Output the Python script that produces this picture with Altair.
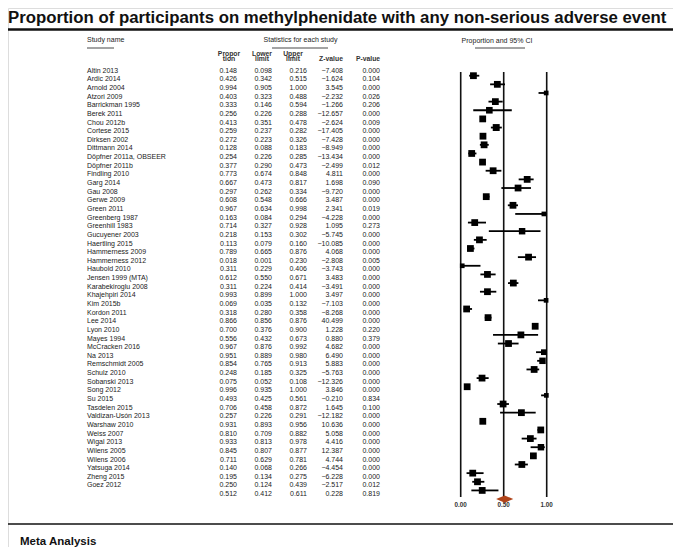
import altair as alt
import pandas as pd

TITLE = "Proportion of participants on methylphenidate with any non-serious adverse event"

studies = [
    "Altin 2013", "Ardic 2014", "Arnold 2004", "Atzori 2009", "Barrickman 1995",
    "Berek 2011", "Chou 2012b", "Cortese 2015", "Dirksen 2002", "Dittmann 2014",
    "Döpfner 2011a, OBSEER", "Döpfner 2011b", "Findling 2010", "Garg 2014", "Gau 2008",
    "Gerwe 2009", "Green 2011", "Greenberg 1987", "Greenhill 1983", "Gucuyener 2003",
    "Haertling 2015", "Hammerness 2009", "Hammerness 2012", "Haubold 2010", "Jensen 1999 (MTA)",
    "Karabekiroglu 2008", "Khajehpiri 2014", "Kim 2015b", "Kordon 2011", "Lee 2014",
    "Lyon 2010", "Mayes 1994", "McCracken 2016", "Na 2013", "Remschmidt 2005",
    "Schulz 2010", "Sobanski 2013", "Song 2012", "Su 2015", "Tasdelen 2015",
    "Valdizan-Usón 2013", "Warshaw 2010", "Weiss 2007", "Wigal 2013", "Wilens 2005",
    "Wilens 2006", "Yatsuga 2014", "Zheng 2015", "Goez 2012",
]
prop = [0.148, 0.426, 0.994, 0.403, 0.333, 0.256, 0.413, 0.259, 0.272, 0.128,
        0.254, 0.377, 0.773, 0.667, 0.297, 0.608, 0.967, 0.163, 0.714, 0.218,
        0.113, 0.789, 0.018, 0.311, 0.612, 0.311, 0.993, 0.069, 0.318, 0.866,
        0.700, 0.556, 0.967, 0.951, 0.854, 0.248, 0.075, 0.996, 0.493, 0.706,
        0.257, 0.931, 0.810, 0.933, 0.845, 0.711, 0.140, 0.195, 0.250]
lower = [0.098, 0.342, 0.905, 0.323, 0.146, 0.226, 0.351, 0.237, 0.223, 0.088,
         0.226, 0.290, 0.674, 0.473, 0.262, 0.548, 0.634, 0.084, 0.327, 0.153,
         0.079, 0.665, 0.001, 0.229, 0.550, 0.224, 0.899, 0.035, 0.280, 0.856,
         0.376, 0.432, 0.876, 0.889, 0.765, 0.185, 0.052, 0.935, 0.425, 0.458,
         0.226, 0.893, 0.709, 0.813, 0.807, 0.629, 0.068, 0.134, 0.124]
upper = [0.216, 0.515, 1.000, 0.488, 0.594, 0.288, 0.478, 0.282, 0.326, 0.183,
         0.285, 0.473, 0.848, 0.817, 0.334, 0.666, 0.998, 0.294, 0.928, 0.302,
         0.160, 0.876, 0.230, 0.406, 0.671, 0.414, 1.000, 0.132, 0.358, 0.876,
         0.900, 0.673, 0.992, 0.980, 0.913, 0.325, 0.108, 1.000, 0.561, 0.872,
         0.291, 0.956, 0.882, 0.978, 0.877, 0.781, 0.266, 0.275, 0.439]
zval = [-7.408, -1.624, 3.545, -2.232, -1.266, -12.657, -2.624, -17.405, -7.428, -8.949,
        -13.434, -2.499, 4.811, 1.698, -9.720, 3.487, 2.341, -4.228, 1.095, -5.745,
        -10.085, 4.068, -2.808, -3.743, 3.483, -3.491, 3.497, -7.103, -8.268, 40.499,
        1.228, 0.880, 4.682, 6.490, 5.883, -5.763, -12.326, 3.846, -0.210, 1.645,
        -12.182, 10.636, 5.058, 4.416, 12.387, 4.744, -4.454, -6.228, -2.517]
pval = [0.000, 0.104, 0.000, 0.026, 0.206, 0.000, 0.009, 0.000, 0.000, 0.000,
        0.000, 0.012, 0.000, 0.090, 0.000, 0.000, 0.019, 0.000, 0.273, 0.000,
        0.000, 0.000, 0.005, 0.000, 0.000, 0.000, 0.000, 0.000, 0.000, 0.000,
        0.220, 0.379, 0.000, 0.000, 0.000, 0.000, 0.000, 0.000, 0.834, 0.100,
        0.000, 0.000, 0.000, 0.000, 0.000, 0.000, 0.000, 0.000, 0.012]
# relative study weights
weight = [2.1, 2.1, 1.0, 2.1, 2.0, 2.1, 2.2, 2.1, 2.1, 2.1,
          2.1, 2.1, 2.1, 2.1, 2.1, 2.1, 1.0, 2.1, 1.9, 2.1,
          2.1, 2.1, 1.0, 2.1, 2.1, 2.1, 1.0, 2.1, 2.1, 2.1,
          2.1, 2.1, 1.5, 1.9, 2.1, 2.1, 2.1, 1.0, 2.1, 2.1,
          2.1, 2.1, 2.1, 1.9, 2.1, 2.1, 2.1, 2.1, 2.1]
summary = [0.512, 0.412, 0.611, 0.228, 0.819]  # prop, lower, upper, z, p

axis_ticks = [0.0, 0.5, 1.0]
axis_labels = ["0.00", "0.50", "1.00"]

n = len(studies)
df = pd.DataFrame({
    "study": studies + [""],
    "prop": prop + [summary[0]],
    "lower": lower + [summary[1]],
    "upper": upper + [summary[2]],
    "z": zval + [summary[3]],
    "p": pval + [summary[4]],
    "w": weight + [0.0],
    "row": list(range(n + 1)),
})
study_df = df.iloc[:n]

ROW0, STEP = 67.7, 8.64
yscale = alt.Scale(domain=[0, n], range=[ROW0, ROW0 + n * STEP])
xscale = alt.Scale(domain=[0, 1], range=[452.7, 538.7])
Y = alt.Y("row:Q", scale=yscale, axis=None)

FONT = "Liberation Sans, Arial, sans-serif"
TXT = "#222222"
FS = 7

layers = []

# Title and rules
tdf = pd.DataFrame({"t": [TITLE]})
layers.append(alt.Chart(tdf).mark_text(
    font=FONT, fontSize=16.8, fontWeight="bold", align="left", baseline="alphabetic", color="#111"
).encode(x=alt.value(0), y=alt.value(14.8), text="t:N"))

one = pd.DataFrame({"a": [0]})
def hrule(x1, x2, y, sw, color="#111"):
    return alt.Chart(one).mark_rule(strokeWidth=sw, color=color).encode(
        x=alt.value(x1), x2=alt.value(x2), y=alt.value(y))

layers.append(hrule(0, 665, 21.5, 2.5))
layers.append(hrule(0, 665, 516, 1.6))

def label(text, x, y, align="center", size=FS, weight="normal", color=TXT):
    return alt.Chart(pd.DataFrame({"t": [text]})).mark_text(
        font=FONT, fontSize=size, fontWeight=weight, align=align, baseline="middle", color=color
    ).encode(x=alt.value(x), y=alt.value(y), text="t:N")

# headers
layers.append(label("Study name", 79, 32, align="left"))
layers.append(hrule(79, 106, 40, 0.9, "#333"))
layers.append(label("Statistics for each study", 292.5, 32))
layers.append(hrule(264, 320, 40, 0.9, "#333"))
layers.append(label("Proportion and 95% CI", 489, 33))
layers.append(hrule(467, 517, 40, 0.9, "#333"))

for txt, x, y in [("Propor", 221, 45.5), ("tion", 221, 51), ("Lower", 254, 45.5), ("limit", 254, 51),
                  ("Upper", 285, 45.5), ("limit", 285, 51), ("Z-value", 323, 51), ("P-value", 360, 51)]:
    layers.append(label(txt, x, y, size=6.8, weight="bold", color="#333"))

layers.append(label("Meta Analysis", 12, 533.5, align="left", size=11.5, weight="bold", color="#111"))

# table columns
def col(field, x, align, fmt=None):
    text = alt.Text(f"{field}:Q", format=fmt) if fmt else alt.Text(f"{field}:N")
    return alt.Chart(df).mark_text(
        font=FONT, fontSize=FS, align=align, baseline="middle", dy=-5, color=TXT
    ).encode(x=alt.value(x), y=Y, text=text)

layers.append(col("study", 79, "left"))
layers.append(col("prop", 229, "right", ".3f"))
layers.append(col("lower", 264, "right", ".3f"))
layers.append(col("upper", 299, "right", ".3f"))
layers.append(col("z", 335, "right", ".3f"))
layers.append(col("p", 372, "right", ".3f"))

# forest plot reference lines and labels
tick_df = pd.DataFrame({"t": axis_ticks, "lab": axis_labels})
layers.append(alt.Chart(tick_df).mark_rule(strokeWidth=1.6, color="#111").encode(
    x=alt.X("t:Q", scale=xscale, axis=None), y=alt.value(64), y2=alt.value(489)))
layers.append(alt.Chart(tick_df).mark_text(
    font=FONT, fontSize=6.3, fontWeight="bold", baseline="middle", color="#333"
).encode(x=alt.X("t:Q", scale=xscale, axis=None), y=alt.value(497), text="lab:N"))

# CIs and markers
layers.append(alt.Chart(study_df).mark_rule(strokeWidth=1.8, color="#000").encode(
    x=alt.X("lower:Q", scale=xscale, axis=None), x2="upper:Q", y=Y))
layers.append(alt.Chart(study_df).mark_square(filled=True, color="#000", opacity=1).encode(
    x=alt.X("prop:Q", scale=xscale, axis=None), y=Y,
    size=alt.Size("w:Q", scale=alt.Scale(domain=[0, 2.1], range=[0, 46]), legend=None)))

# summary diamond
H = 0.42
r = n
dia = pd.DataFrame({
    "x": [summary[1], summary[0], summary[2]],
    "y": [r, r - H, r],
    "y2": [r, r + H, r],
})
layers.append(alt.Chart(dia).mark_area(color="#b0441a", opacity=1).encode(
    x=alt.X("x:Q", scale=xscale, axis=None),
    y=alt.Y("y:Q", scale=yscale, axis=None), y2="y2:Q"))

chart = alt.layer(*layers).properties(
    width=665, height=539, padding=0, autosize=alt.AutoSizeParams(type="none")
).configure_view(stroke=None).configure(background="white")

chart.save("out.html", embed_options={"renderer": "svg", "actions": False})
